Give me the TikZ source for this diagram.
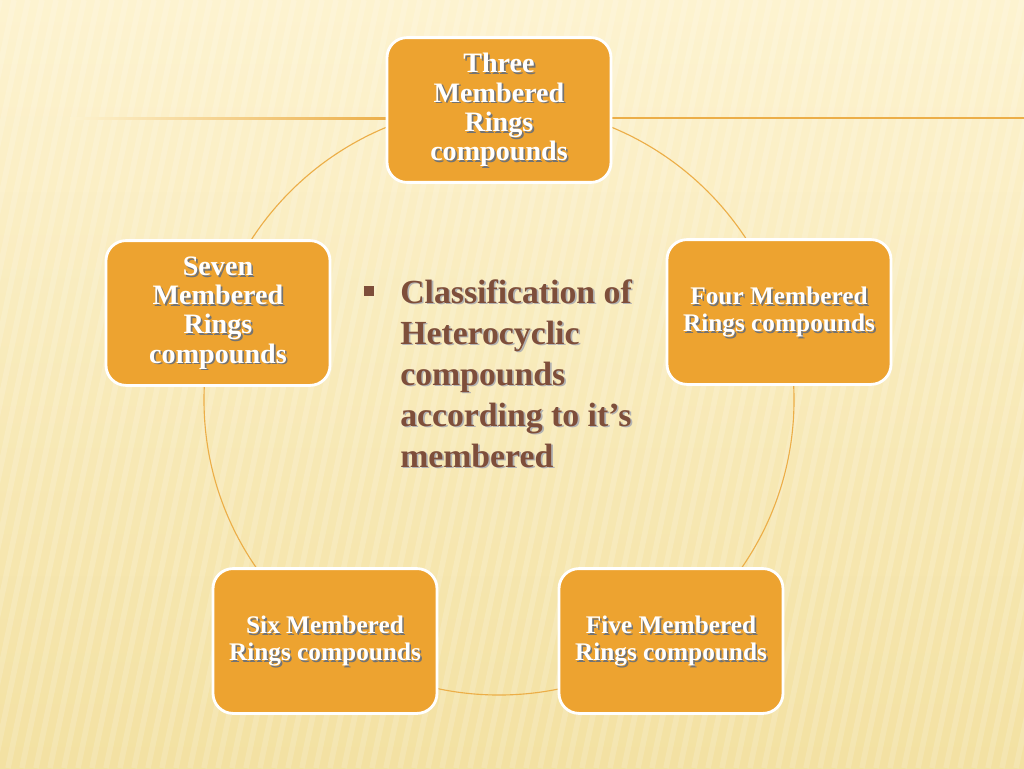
\documentclass[tikz,border=0pt]{standalone}
\usepackage{fontspec}
\setmainfont{Liberation Serif}
\usepackage{xcolor}
\usetikzlibrary{positioning}

\definecolor{paper}{RGB}{253,243,208}
\definecolor{paperlow}{RGB}{243,225,162}
\definecolor{ringorange}{RGB}{237,163,48}
\definecolor{ringline}{RGB}{236,174,72}
\definecolor{textbrown}{RGB}{126,78,58}
% text with a small drop shadow
\newcommand\shd[2]{\makebox[0pt][l]{\raisebox{-1.2pt}[0pt][0pt]{\hspace{1.2pt}\textcolor{#1}{#2}}}#2}

\begin{document}
\begin{tikzpicture}[x=0.25mm,y=-0.25mm,
  ring/.style={draw=white,line width=2pt,fill=ringorange,rounded corners=5mm,
    minimum width=56mm,minimum height=36.2mm,align=center,text=white,
    font=\bfseries\fontsize{20}{20.8}\selectfont},
  ringsmall/.style={ring,font=\bfseries\fontsize{18}{19.3}\selectfont}]
% background
\fill[top color=paper,bottom color=paperlow] (0,0) rectangle (1024,768);
\begin{scope}
\clip (0,0) rectangle (1024,768);
\foreach \x in {0,14,...,1200}
  \draw[white,opacity=0.16,line width=1.4mm] (\x,0) -- (\x-160,768);
\end{scope}
\useasboundingbox (0,0) rectangle (1024,768);
% decorative rule and the ring
\shade[left color=paper,right color=ringline] (70,117.3) rectangle (390,119.1);
\fill[ringline] (390,117.3) rectangle (1024,119.1);
\draw[ringline,line width=0.8pt] (499,400) circle[radius=73.75mm];

\node[ring] (three) at (499,110) {\shd{black!55}{Three}\\\shd{black!55}{Membered}\\\shd{black!55}{Rings}\\\shd{black!55}{compounds}};
\node[ringsmall] (four) at (779,312) {\shd{black!55}{Four Membered}\\\shd{black!55}{Rings compounds}};
\node[ringsmall] (five) at (671,641) {\shd{black!55}{Five Membered}\\\shd{black!55}{Rings compounds}};
\node[ringsmall] (six) at (325,641) {\shd{black!55}{Six Membered}\\\shd{black!55}{Rings compounds}};
\node[ring] (seven) at (218,313) {\shd{black!55}{Seven}\\\shd{black!55}{Membered}\\\shd{black!55}{Rings}\\\shd{black!55}{compounds}};

% middle text
\node[fill=textbrown,inner sep=0pt,minimum size=2.4mm] (bullet) at (369,291) {};
\node[anchor=north west,inner sep=0pt,align=left,text=textbrown,
  font=\bfseries\fontsize{24}{29.2}\selectfont] (topic) at (400,279)
  {\shd{black!30}{Classification of}\\\shd{black!30}{Heterocyclic}\\\shd{black!30}{compounds}\\\shd{black!30}{according to it’s}\\\shd{black!30}{membered}};
\end{tikzpicture}
\end{document}
